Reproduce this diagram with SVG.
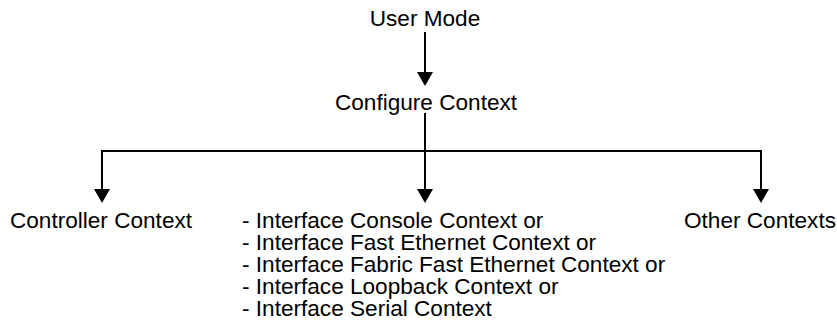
<svg xmlns="http://www.w3.org/2000/svg" width="837" height="322" viewBox="0 0 837 322">
  <style>
    .lbl { font-family: "Liberation Sans", Arial, Helvetica, sans-serif; font-size: 22.6px; fill: #000; }
    .mid { text-anchor: middle; }
    .wire { fill: none; stroke: #000; stroke-width: 2; }
  </style>
  <defs>
    <!-- solid triangular head; the wire stops 7px short so its blunt end stays hidden -->
    <marker id="head" markerUnits="userSpaceOnUse" markerWidth="16" markerHeight="16" viewBox="0 0 15 16" refX="7" refY="8" orient="auto">
      <path d="M0,0 L14,8 L0,16 Z" fill="#000"/>
    </marker>
  </defs>
  <rect width="837" height="322" fill="#fff"/>

  <g id="connectors">
    <line class="wire" x1="425" y1="32" x2="425" y2="79" marker-end="url(#head)"/>
    <line class="wire" x1="425" y1="113" x2="425" y2="196" marker-end="url(#head)"/>
    <polyline class="wire" points="425,151 102,151 102,196" marker-end="url(#head)"/>
    <polyline class="wire" points="425,151 761,151 761,196" marker-end="url(#head)"/>
  </g>

  <g id="user-mode">
    <text class="lbl mid" x="425" y="26">User Mode</text>
  </g>
  <g id="configure-context">
    <text class="lbl mid" x="426" y="110">Configure Context</text>
  </g>
  <g id="controller-context">
    <text class="lbl mid" x="101" y="228">Controller Context</text>
  </g>
  <g id="interface-contexts">
    <text class="lbl" x="242" y="228">- Interface Console Context or</text>
    <text class="lbl" x="242" y="250">- Interface Fast Ethernet Context or</text>
    <text class="lbl" x="242" y="272">- Interface Fabric Fast Ethernet Context or</text>
    <text class="lbl" x="242" y="294">- Interface Loopback Context or</text>
    <text class="lbl" x="242" y="316">- Interface Serial Context</text>
  </g>
  <g id="other-contexts">
    <text class="lbl mid" x="760" y="228">Other Contexts</text>
  </g>
</svg>
